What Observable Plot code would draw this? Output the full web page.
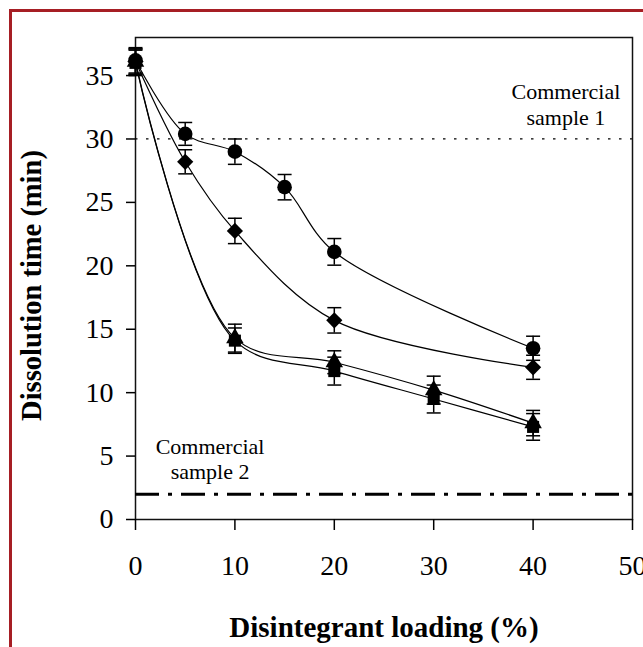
<!DOCTYPE html>
<html>
<head>
<meta charset="utf-8">
<script src="https://cdn.jsdelivr.net/npm/d3@7"></script>
<script src="https://cdn.jsdelivr.net/npm/@observablehq/plot@0.6"></script>
<style>
  html, body { margin: 0; padding: 0; background: #fff; overflow: hidden; }
  #wrap { position: relative; width: 643px; height: 647px; overflow: hidden; }
  #edge { position: absolute; left: 9px; top: 9px; width: 700px; height: 700px;
          border: 3px solid #a61e24; pointer-events: none; }
</style>
</head>
<body>
<div id="wrap"><div id="edge"></div></div>
<script>
// Dissolution time (min) vs disintegrant loading (%), four formulations (mean ± error)
const circleX = [0, 5, 10, 15, 20, 40];
const circleY = [36.2, 30.4, 29.0, 26.2, 21.1, 13.5];
const circleErr = [1.0, 0.9, 1.0, 1.0, 1.05, 0.95];

const diamondX = [0, 5, 10, 20, 40];
const diamondY = [36.1, 28.2, 22.75, 15.7, 12.0];
const diamondErr = [1.0, 0.95, 1.0, 1.0, 0.95];

const triangleX = [0, 10, 20, 30, 40];
const triangleY = [36.1, 14.3, 12.4, 10.2, 7.6];
const triangleErr = [1.0, 1.1, 0.9, 1.1, 1.0];

const squareX = [0, 10, 20, 30, 40];
const squareY = [36.0, 14.1, 11.7, 9.5, 7.3];
const squareErr = [1.0, 1.0, 1.1, 1.1, 1.05];

// Reference levels of the commercial products
const commercial1 = 30;
const commercial2 = 2;

const xTicks = [0, 10, 20, 30, 40, 50];
const yTicks = [0, 5, 10, 15, 20, 25, 30, 35];

const seriesDefs = [
  {name: "circle", symbol: "circle", r: 7.3, xs: circleX, ys: circleY, es: circleErr},
  {name: "diamond", symbol: "diamond2", r: 7.3, xs: diamondX, ys: diamondY, es: diamondErr},
  {name: "triangle", symbol: "triangle", r: 6.5, xs: triangleX, ys: triangleY, es: triangleErr},
  {name: "square", symbol: "square", r: 6.8, xs: squareX, ys: squareY, es: squareErr}
];

const rows = seriesDefs.flatMap(s =>
  s.xs.map((x, i) => ({series: s.name, symbol: s.symbol, r: s.r, x, y: s.ys[i], e: s.es[i]}))
);

// Horizontal cap for the error bars, fixed pixel width
const cap = {draw(context) { context.moveTo(-7, 0); context.lineTo(7, 0); }};

const serif = "'Liberation Serif', 'Times New Roman', serif";

const chart = Plot.plot({
  width: 643,
  height: 647,
  marginLeft: 135,
  marginRight: 11,
  marginTop: 37,
  marginBottom: 128,
  style: {fontFamily: serif, fontSize: "28px", color: "#000", background: "transparent", overflow: "visible"},
  x: {domain: [0, 50]},
  y: {domain: [0, 38]},
  marks: [
    Plot.frame({stroke: "#111", strokeWidth: 1.5}),
    Plot.axisX({ticks: xTicks, tickSize: 11, tickPadding: 25, fontSize: 28, label: null, strokeWidth: 1.5}),
    Plot.axisY({ticks: yTicks, tickSize: 9, tickPadding: 13, fontSize: 28, label: null, strokeWidth: 1.5}),
    Plot.ruleY([commercial1], {stroke: "#000", strokeWidth: 1.3, strokeDasharray: "2.5,8.5"}),
    Plot.ruleY([commercial2], {stroke: "#000", strokeWidth: 3, strokeDasharray: "24,9,4,9"}),
    Plot.text(["Commercial\nsample 1"], {x: 43.3, y: commercial1, dy: -14, lineAnchor: "bottom",
      lineHeight: 1.2, fontSize: 22, fontFamily: serif, fill: "#000"}),
    Plot.text(["Commercial\nsample 2"], {x: 7.5, y: commercial2, dy: -15, lineAnchor: "bottom",
      lineHeight: 1.15, fontSize: 22, fontFamily: serif, fill: "#000"}),
    Plot.line(rows, {x: "x", y: "y", z: "series", curve: "catmull-rom", stroke: "#000", strokeWidth: 1.2}),
    Plot.ruleX(rows, {x: "x", y1: d => d.y - d.e, y2: d => d.y + d.e, stroke: "#000", strokeWidth: 1.5}),
    Plot.dot(rows, {x: "x", y: d => d.y + d.e, symbol: () => cap, r: 1, stroke: "#000", strokeWidth: 1.5, fill: "none"}),
    Plot.dot(rows, {x: "x", y: d => d.y - d.e, symbol: () => cap, r: 1, stroke: "#000", strokeWidth: 1.5, fill: "none"}),
    ...seriesDefs.map(s =>
      Plot.dot(rows.filter(d => d.series === s.name), {x: "x", y: "y", symbol: s.symbol, r: s.r, fill: "#000", stroke: "none"})
    ),
    Plot.text(["Disintegrant loading (%)"], {frameAnchor: "bottom", dy: 117, fontSize: 29,
      fontWeight: "bold", fontFamily: serif, fill: "#000"}),
    Plot.text(["Dissolution time (min)"], {frameAnchor: "left", textAnchor: "middle", dx: -104, dy: 7,
      rotate: -90, fontSize: 28.5, fontWeight: "bold", fontFamily: serif, fill: "#000"})
  ]
});

document.getElementById("wrap").appendChild(chart);
</script>
</body>
</html>
